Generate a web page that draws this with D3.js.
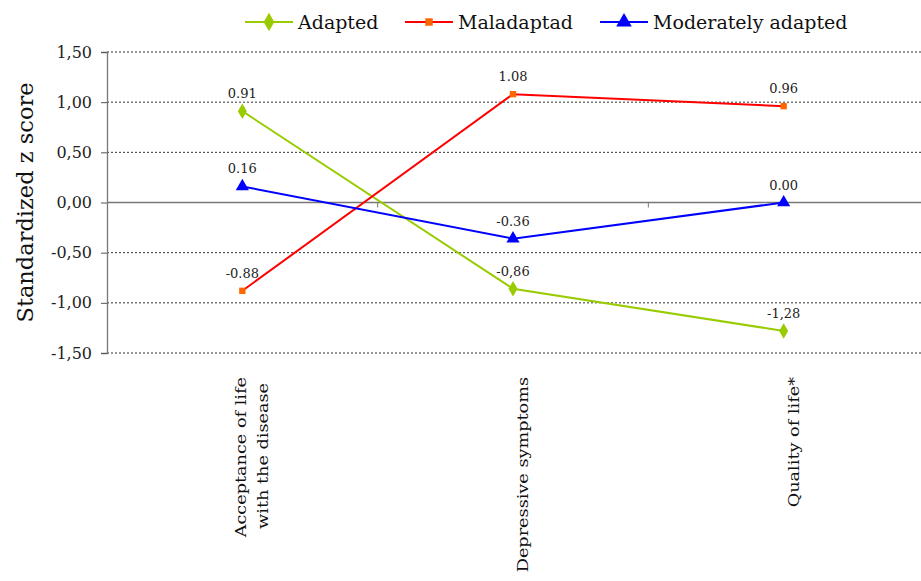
<!DOCTYPE html>
<html><head><meta charset="utf-8">
<script src="https://cdn.jsdelivr.net/npm/d3@7"></script>
<style>body{margin:0;background:#fff}svg{display:block}</style>
</head><body>
<svg id="c" width="921" height="581"></svg>
<script>
const categories = [["Acceptance of life","with the disease"],["Depressive symptoms"],["Quality of life*"]];
const seriesNames = ["Adapted","Maladaptad","Moderately adapted"];
const adapted = [0.91, -0.86, -1.28];
const maladaptad = [-0.88, 1.08, 0.96];
const moderately = [0.16, -0.36, 0.00];
const adaptedLabels = ["0.91","-0,86","-1,28"];
const maladaptadLabels = ["-0.88","1.08","0.96"];
const moderatelyLabels = ["0.16","-0.36","0.00"];
const yTicks = [1.5,1.0,0.5,0,-0.5,-1.0,-1.5];
const yTickLabels = ["1,50","1,00","0,50","0,00","-0,50","-1,00","-1,50"];

const svg = d3.select("#c");
const font = "'DejaVu Serif',serif";
const x0 = 107, x1 = 921, yTop = 52, yBot = 353;
const x = d3.scaleBand().domain(d3.range(categories.length)).range([x0, 919]);
const y = d3.scaleLinear().domain([-1.5, 1.5]).range([yBot, yTop]);
const cx = i => x(i) + x.bandwidth()/2;

// gridlines
yTicks.forEach(t => {
  if (t === 0) return;
  svg.append("line").attr("x1", x0).attr("x2", x1).attr("y1", y(t)).attr("y2", y(t))
    .attr("stroke", "#333").attr("stroke-width", 1).attr("stroke-dasharray", "2,2");
});
// zero line
svg.append("line").attr("x1", x0).attr("x2", x1).attr("y1", y(0)).attr("y2", y(0))
  .attr("stroke", "#777").attr("stroke-width", 1.3);
// category ticks on zero line
d3.range(1, categories.length).forEach(i => {
  svg.append("line").attr("x1", x(i)).attr("x2", x(i)).attr("y1", y(0)).attr("y2", y(0)+5)
    .attr("stroke", "#777");
});
// y axis
const yAxis = d3.axisLeft(y).tickValues(yTicks).tickSize(6).tickFormat((d,i) => yTickLabels[i]);
const ga = svg.append("g").attr("transform", `translate(${x0},0)`).call(yAxis);
ga.select(".domain").attr("stroke", "#777").attr("stroke-width", 1.3);
ga.selectAll(".tick line").attr("stroke", "#555");
ga.selectAll(".tick text").attr("font-family", font).attr("font-size", 16).attr("fill", "#222").attr("x", -15);

// y title
svg.append("text").attr("transform", `translate(33,${(yTop+yBot)/2}) rotate(-90)`)
  .attr("text-anchor", "middle").attr("font-family", font).attr("font-size", 22.5).attr("fill", "#111")
  .text("Standardized z score");

// category labels
categories.forEach((lines, i) => {
  const n = lines.length;
  lines.forEach((ln, j) => {
    const xx = cx(i) + 9 + (j - (n-1)/2) * 22 + 6;
    const top = 377 + j * 6;
    svg.append("text").attr("transform", `translate(${xx},${top}) rotate(-90) scale(1.14,1)`)
      .attr("text-anchor", "end").attr("font-family", font).attr("font-size", 15.5).attr("fill", "#111")
      .text(ln);
  });
});

const series = [
  {name: seriesNames[0], vals: adapted, labels: adaptedLabels, line: "#99cc00", fill: "#99cc00", sym: d3.symbolDiamond, size: 70},
  {name: seriesNames[1], vals: maladaptad, labels: maladaptadLabels, line: "#ff0000", fill: "#ff6600", sym: d3.symbolSquare, size: 40},
  {name: seriesNames[2], vals: moderately, labels: moderatelyLabels, line: "#0000ff", fill: "#0000ff", sym: d3.symbolTriangle, size: 75}
];
const line = d3.line().x((d,i) => cx(i)).y(d => y(d));
series.forEach(s => {
  svg.append("path").datum(s.vals).attr("d", line).attr("fill", "none").attr("stroke", s.line).attr("stroke-width", 2);
  s.vals.forEach((v, i) => {
    svg.append("path").attr("d", d3.symbol().type(s.sym).size(s.size)())
      .attr("transform", `translate(${cx(i)},${y(v)})`).attr("fill", s.fill);
    svg.append("text").attr("x", cx(i)).attr("y", y(v) - 13).attr("text-anchor", "middle")
      .attr("font-family", font).attr("font-size", 13).attr("fill", "#222").text(s.labels[i]);
  });
});

// legend
const legX = [245, 405, 600];
series.forEach((s, k) => {
  const g = svg.append("g").attr("transform", `translate(${legX[k]},22)`);
  g.append("line").attr("x1", 0).attr("x2", 48).attr("stroke", s.line).attr("stroke-width", 2);
  g.append("path").attr("d", d3.symbol().type(s.sym).size(s.size*1.4)()).attr("transform", "translate(24,0)").attr("fill", s.fill);
  g.append("text").attr("x", 53).attr("y", 7).attr("font-family", font).attr("font-size", 19).attr("fill", "#111").text(s.name);
});
</script>
</body></html>
